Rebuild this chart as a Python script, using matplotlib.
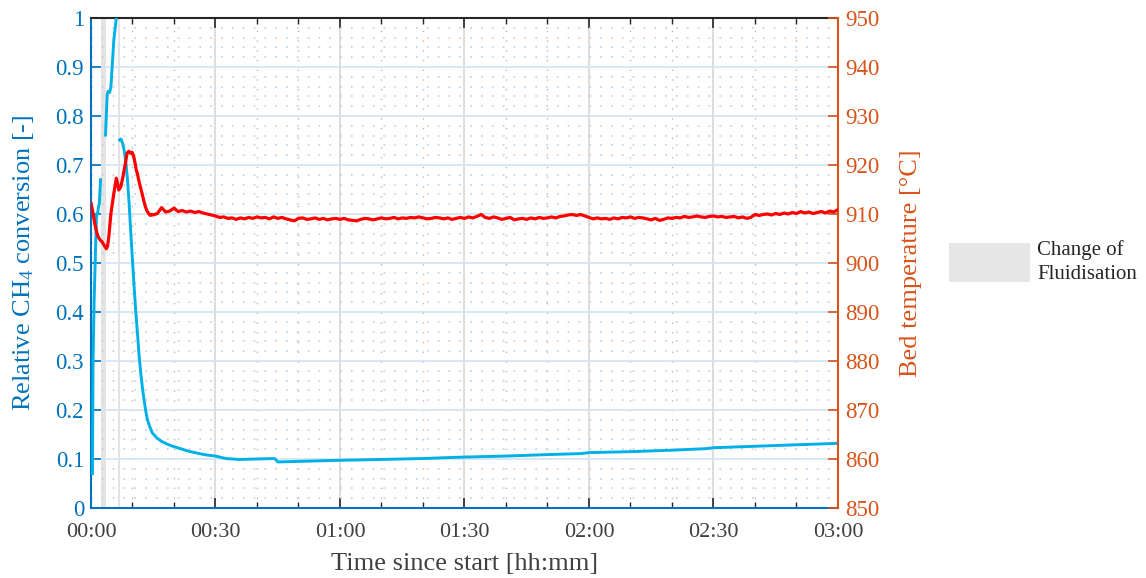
import numpy as np
import matplotlib
matplotlib.use("Agg")
import matplotlib.pyplot as plt
from matplotlib.patches import Patch
from matplotlib.ticker import MultipleLocator, FixedLocator

plt.rcParams['font.family'] = ['Liberation Serif', 'DejaVu Serif']
plt.rcParams['mathtext.fontset'] = 'custom'
plt.rcParams['mathtext.rm'] = 'Liberation Serif'
plt.rcParams['mathtext.it'] = 'Liberation Serif:italic'

# ---------------- data (time in minutes) ----------------
# Relative CH4 conversion, three segments separated by gaps (NaN)
conv_t1 = [0.35, 0.5, 0.75, 1.0, 1.2, 1.35, 1.6, 1.8, 2.0, 2.3]
conv_v1 = [0.07, 0.30, 0.42, 0.50, 0.56, 0.60, 0.60, 0.615, 0.62, 0.67]
conv_t2 = [3.5, 3.9, 4.1, 4.5, 4.8, 5.1, 5.5, 6.1, 6.3]
conv_v2 = [0.761, 0.843, 0.85, 0.848, 0.86, 0.90, 0.955, 1.0, 1.04]
conv_t3 = [6.9, 7.2, 7.6, 8.0, 8.4, 8.8, 9.2, 9.6, 10.0, 10.4, 10.8, 11.2, 11.6,
           12.0, 12.4, 12.8, 13.2, 13.6, 14.2, 14.8, 16.0, 17.2, 19.0, 21.2,
           23.5, 26.1, 28.0, 30.0, 32.5, 35.7, 39.7, 44.2, 44.6, 45.0, 49.4,
           58.2, 69.5, 80, 90, 100, 110, 118, 120, 130, 140, 148, 150, 160,
           170, 180]
conv_v3 = [0.751, 0.753, 0.745, 0.73, 0.705, 0.67, 0.62, 0.56, 0.505, 0.45,
           0.40, 0.357, 0.31, 0.275, 0.245, 0.22, 0.198, 0.18, 0.165, 0.153,
           0.142, 0.135, 0.128, 0.122, 0.116, 0.111, 0.108, 0.106, 0.101,
           0.099, 0.100, 0.101, 0.098, 0.094, 0.095, 0.097, 0.099, 0.101,
           0.104, 0.106, 0.109, 0.111, 0.113, 0.115, 0.118, 0.121, 0.123,
           0.126, 0.129, 0.132]

# Bed temperature
temp_t_early = [0, 0.5, 0.9, 1.3, 1.7, 2.2, 2.7, 3.1, 3.7, 4.0, 4.3, 4.8, 5.2,
                5.5, 5.8, 6.1, 6.4, 6.7, 7.2, 7.7, 8.3, 8.7, 9.1, 9.5, 9.9,
                10.3, 10.6, 10.9, 11.2, 11.5, 11.9, 12.3, 12.7, 13.1, 13.5,
                13.9, 14.3, 14.7]
temp_v_early = [912.2, 910.1, 908.1, 906.5, 905.4, 904.7, 904.3, 903.7, 902.9,
                903.5, 905.4, 910.1, 912.5, 914.2, 915.8, 917.3, 916.2, 914.9,
                915.6, 917.6, 920.4, 922.4, 922.8, 922.4, 922.6, 921.7, 920.5,
                919.0, 918.2, 916.9, 915.5, 914.2, 912.8, 911.5, 910.6, 910.1,
                909.7, 909.9]
temp_t_late = list(range(15, 181))
temp_v_late = [
    909.8, 910.1, 911.3, 910.4, 910.6, 911.2, 910.5, 910.7, 910.4, 910.6,  # 15-24
    910.3, 910.5, 910.2, 910.0, 909.8, 909.6, 909.3, 909.4, 909.1, 909.2,  # 25-34
    908.9, 909.2, 909.0, 909.3, 909.1, 909.4, 909.2, 909.3, 909.0, 909.4,  # 35-44
    909.1, 909.3, 909.0, 908.8, 908.6, 909.1, 909.2, 908.9, 909.0, 909.2,  # 45-54
    908.9, 909.1, 908.8, 909.0, 909.1, 908.9, 909.1, 908.8, 908.7, 908.6,  # 55-64
    908.9, 909.1, 909.0, 908.8, 909.0, 909.2, 909.0, 909.1, 909.3, 909.0,  # 65-74
    909.2, 909.1, 909.3, 909.2, 909.4, 909.2, 909.0, 909.1, 909.3, 909.2,  # 75-84
    909.0, 909.2, 908.9, 909.1, 909.3, 909.1, 909.4, 909.2, 909.5, 909.9,  # 85-94
    909.3, 909.1, 909.4, 909.2, 908.9, 909.1, 909.3, 908.8, 909.0, 909.1,  # 95-104
    908.9, 909.2, 909.0, 909.3, 909.1, 909.2, 909.4, 909.2, 909.5, 909.6,  # 105-114
    909.8, 909.9, 909.7, 909.9, 909.6, 909.3, 909.0, 909.2, 909.0, 909.1,  # 115-124
    908.9, 909.2, 909.0, 909.3, 909.2, 909.4, 909.1, 909.3, 909.2, 909.0,  # 125-134
    908.8, 909.1, 908.7, 908.9, 909.2, 909.1, 909.3, 909.2, 909.5, 909.3,  # 135-144
    909.4, 909.6, 909.4, 909.3, 909.5, 909.6, 909.4, 909.5, 909.3, 909.4,  # 145-154
    909.5, 909.2, 909.4, 909.1, 909.3, 909.9, 909.7, 909.9, 910.0, 909.8,  # 155-164
    910.1, 909.9, 910.2, 910.0, 910.3, 910.1, 910.5, 910.2, 910.4, 910.1,  # 165-174
    910.3, 910.5, 910.2, 910.6, 910.4, 910.9]                              # 175-180

# Periods of fluidisation change (minutes)
fluid_start = [2.4, 6.4]
fluid_end = [3.5, 6.9]

x_major = [0, 30, 60, 90, 120, 150, 180]
x_labels = ["00:00", "00:30", "01:00", "01:30", "02:00", "02:30", "03:00"]
y_left_ticks = [0, 0.1, 0.2, 0.3, 0.4, 0.5, 0.6, 0.7, 0.8, 0.9, 1.0]
y_left_labels = ["0", "0.1", "0.2", "0.3", "0.4", "0.5", "0.6", "0.7", "0.8", "0.9", "1"]
y_right_ticks = [850, 860, 870, 880, 890, 900, 910, 920, 930, 940, 950]

# ---------------- styling ----------------
BLUE_AX = '#0072BD'
ORANGE_AX = '#D95319'
LINE_BLUE = '#00B0E6'
LINE_RED = '#FF0000'
DARK = '#262626'
TXT = '#404040'

fig = plt.figure(figsize=(11.46, 5.78), dpi=100)
ax = fig.add_axes([0.0794, 0.1211, 0.6518, 0.8478])
ax2 = ax.twinx()

for s, e in zip(fluid_start, fluid_end):
    ax.axvspan(s, e, color='#E3E3E3', lw=0, zorder=0.5)

conv_t = conv_t1 + [np.nan] + conv_t2 + [np.nan] + conv_t3
conv_v = conv_v1 + [np.nan] + conv_v2 + [np.nan] + conv_v3
ax.plot(conv_t, conv_v, color=LINE_BLUE, lw=2.1, zorder=3, solid_joinstyle='round')

temp_t = temp_t_early + temp_t_late
temp_v = temp_v_early + temp_v_late
ax2.plot(temp_t, temp_v, color=LINE_RED, lw=2.3, zorder=3)

ax.set_xlim(0, 180)
ax.set_ylim(0, 1)
ax2.set_ylim(850, 950)

ax.xaxis.set_major_locator(FixedLocator(x_major))
ax.set_xticklabels(x_labels)
ax.xaxis.set_minor_locator(MultipleLocator(10))
ax.yaxis.set_major_locator(FixedLocator(y_left_ticks))
ax.set_yticklabels(y_left_labels)
ax.yaxis.set_minor_locator(MultipleLocator(0.02))
ax2.yaxis.set_major_locator(FixedLocator(y_right_ticks))

ax.set_axisbelow(True)
ax.xaxis.grid(True, which='major', color='#DADADA', lw=1.3)
ax.xaxis.grid(True, which='minor', color='#B8B8B8', lw=1.0, ls=(0, (1, 6)))
ax.yaxis.grid(True, which='major', color='#D3E5F3', lw=1.3)
ax.yaxis.grid(True, which='minor', color='#BFD9EE', lw=1.3, ls=(0, (1, 5)))

# ticks
ax.tick_params(axis='x', which='major', direction='in', length=7, width=1.2,
               color=DARK, labelcolor=TXT, labelsize=16, top=True, pad=11)
ax.tick_params(axis='x', which='minor', direction='in', length=4, width=1.0,
               color=DARK, top=True)
ax.tick_params(axis='y', which='major', direction='in', length=7, width=1.2,
               color=BLUE_AX, labelcolor=BLUE_AX, labelsize=16.5, pad=5)
ax.tick_params(axis='y', which='minor', length=0)
ax2.tick_params(axis='y', which='major', direction='in', length=7, width=1.2,
                color=ORANGE_AX, labelcolor=ORANGE_AX, labelsize=16.5, pad=5)

for sp in ['left', 'bottom']:
    ax.spines[sp].set_color(BLUE_AX)
    ax.spines[sp].set_linewidth(1.5)
ax.spines['top'].set_color(DARK)
ax.spines['top'].set_linewidth(1.5)
ax.spines['right'].set_visible(False)
for sp in ['left', 'bottom', 'top']:
    ax2.spines[sp].set_visible(False)
ax2.spines['right'].set_color(ORANGE_AX)
ax2.spines['right'].set_linewidth(1.5)

ax.set_xlabel('Time since start [hh:mm]', fontsize=19, color=TXT, labelpad=8)
ax.set_ylabel(r'Relative CH$_{4}$ conversion [-]', fontsize=19, color=BLUE_AX, labelpad=14)
ax2.set_ylabel('Bed temperature [°C]', fontsize=19, color=ORANGE_AX, labelpad=15)

leg = ax2.legend(handles=[Patch(facecolor='#E6E6E6', edgecolor='none',
                                label='Change of\nFluidisation')],
                 loc='center left', bbox_to_anchor=(0.828, 0.547),
                 bbox_transform=fig.transFigure, frameon=False, fontsize=15,
                 handlelength=3.9, handleheight=2.5, handletextpad=0.35,
                 borderaxespad=0, borderpad=0)
for t in leg.get_texts():
    t.set_color(DARK)
    t.set_linespacing(1.35)

fig.savefig('out.png', dpi=100)
